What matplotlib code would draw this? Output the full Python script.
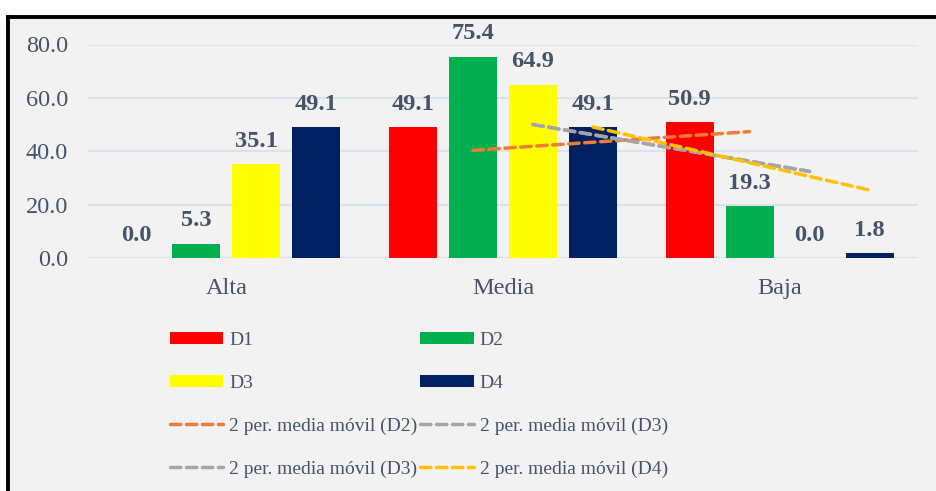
import matplotlib
matplotlib.use("Agg")
import matplotlib.pyplot as plt
import numpy as np
from matplotlib.lines import Line2D
from matplotlib.patches import Rectangle

categories = ["Alta", "Media", "Baja"]
series_names = ["D1", "D2", "D3", "D4"]
D1 = [0.0, 49.1, 50.9]
D2 = [5.3, 75.4, 19.3]
D3 = [35.1, 64.9, 0.0]
D4 = [49.1, 49.1, 1.8]
yticks = [0, 20, 40, 60, 80]

bar_colors = ["#ff0000", "#00b050", "#ffff00", "#002060"]
text_color = "#44546a"
font = ["Liberation Serif", "DejaVu Serif"]
plt.rcParams["font.family"] = font

W, H = 937, 491
fig = plt.figure(figsize=(W / 100, H / 100), dpi=100, facecolor="white")
# chart area background + border
fig.add_artist(Rectangle((10 / W, 0), 1, (H - 18) / H, transform=fig.transFigure,
                         facecolor="#f2f2f2", edgecolor="none", zorder=0))
fig.add_artist(Line2D([8.5 / W, 8.5 / W], [0, (H - 16.5) / H], transform=fig.transFigure,
                      color="black", lw=2.8, solid_capstyle="projecting"))
fig.add_artist(Line2D([8.5 / W, 1], [(H - 16.5) / H, (H - 16.5) / H], transform=fig.transFigure,
                      color="black", lw=2.8, solid_capstyle="projecting"))

ax = fig.add_axes([88 / W, (H - 258) / H, (918 - 88) / W, (258 - 44.5) / H])
ax.set_facecolor("none")

x = np.arange(len(categories))
step = 60 / 277
width = 48 / 277
data = [D1, D2, D3, D4]
offsets = [(i - 1.5) * step for i in range(4)]
handles = {}
for i, (vals, name, col) in enumerate(zip(data, series_names, bar_colors)):
    bars = ax.bar(x + offsets[i], vals, width=width, color=col, label=name, zorder=2)
    handles[name] = bars
    for xi, v in zip(x + offsets[i], vals):
        ax.annotate(f"{v:.1f}", (xi, v), xytext=(0, 12.5), textcoords="offset points",
                    ha="center", va="baseline", fontsize=17.6, fontweight="bold",
                    color=text_color)


def moving_avg2(vals):
    return [(vals[k - 1] + vals[k]) / 2 for k in range(1, len(vals))]


ma_specs = [(D2, 1, "#ed7d31", "2 per. media móvil (D2)"),
            (D3, 2, "#a5a5a5", "2 per. media móvil (D3)"),
            (D3, 2, "#a5a5a5", "2 per. media móvil (D3)"),
            (D4, 3, "#ffc000", "2 per. media móvil (D4)")]
ma_handles = []
for vals, idx, col, lab in ma_specs:
    ln, = ax.plot(x[1:] + offsets[idx], moving_avg2(vals), color=col, lw=2.5,
                  ls=(0, (3, 1.6)), dash_capstyle="round", zorder=3, label=lab)
    ma_handles.append(ln)

ax.set_xlim(-0.5, 2.5)
ax.set_ylim(0, 80)
ax.set_yticks(yticks)
ax.set_yticklabels([f"{t:.1f}" for t in yticks])
ax.set_xticks(x)
ax.set_xticklabels(categories)
ax.tick_params(axis="y", length=0, pad=14.4, labelsize=17.5, labelcolor=text_color)
ax.tick_params(axis="x", length=0, pad=14.5, labelsize=17.5, labelcolor=text_color)
for s in ax.spines.values():
    s.set_visible(False)
ax.grid(axis="y", color="#dde2e8", lw=1.6, zorder=0)
ax.set_axisbelow(True)

leg_handles = [handles["D1"], handles["D3"], ma_handles[0], ma_handles[2],
               handles["D2"], handles["D4"], ma_handles[1], ma_handles[3]]
leg_labels = [h.get_label() for h in leg_handles]
leg = fig.legend(leg_handles, leg_labels, ncol=2, loc="upper left",
                 bbox_to_anchor=(170 / W, 1 - 332 / H), frameon=False,
                 fontsize=14, labelcolor=text_color, handlelength=2.75,
                 handleheight=0.6, handletextpad=0.3, columnspacing=0.15,
                 labelspacing=1.32, borderaxespad=0, borderpad=0)
plt.savefig("out.png", dpi=100, facecolor="white")
